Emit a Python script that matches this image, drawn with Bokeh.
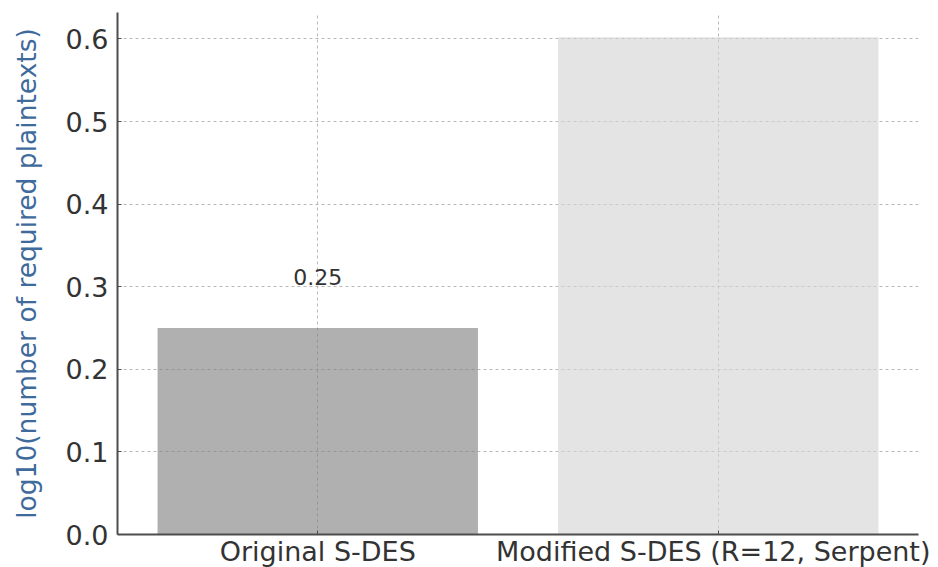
from bokeh.plotting import figure
from bokeh.models import Range1d, ColumnDataSource, CustomJSTickFormatter
from bokeh.core.properties import value
from bokeh.embed import file_html
from bokeh.resources import INLINE

categories = ["Original S-DES", "Modified S-DES (R=12, Serpent)"]
values = [0.25, 0.602]
bar_colors = ["#808080", "#d3d3d3"]
label_texts = ["0.25"]
y_ticks = [0.0, 0.1, 0.2, 0.3, 0.4, 0.5, 0.6]

FONT = "DejaVu Sans"
TEXT_COLOR = "#333333"

src = ColumnDataSource(data=dict(cat=categories, val=values, color=bar_colors))

p = figure(
    x_range=categories,
    y_range=Range1d(0, 0.632),
    width=930, height=569,
    output_backend="svg", toolbar_location=None,
    min_border_left=117, min_border_right=12,
    min_border_top=12, min_border_bottom=35,
)
p.outline_line_color = None
p.background_fill_color = "white"
p.border_fill_color = "white"

p.vbar(x="cat", top="val", width=0.8, source=src,
       fill_color="color", fill_alpha=0.62, line_color=None)

lbl = ColumnDataSource(data=dict(cat=categories[:1], val=values[:1], txt=label_texts))
p.text(x="cat", y="val", text="txt", source=lbl, text_align="center",
       text_baseline="alphabetic", y_offset=-51,
       text_font=value(FONT), text_font_size="22px", text_color=TEXT_COLOR)

# grids
for g in (p.xgrid, p.ygrid):
    g.grid_line_color = "#b8b8b8"
    g.grid_line_dash = "3 3"
    g.grid_line_width = 1
p.ygrid.ticker = y_ticks
p.yaxis.ticker = y_ticks

# axes
for ax in (p.xaxis, p.yaxis):
    ax.axis_line_color = "#4d4d4d"
    ax.axis_line_width = 2
    ax.major_tick_line_color = "#4d4d4d"
    ax.major_tick_in = 4
    ax.major_tick_out = 0
    ax.minor_tick_line_color = None
    ax.major_label_text_font = FONT
    ax.major_label_text_font_size = "27px"
    ax.major_label_text_color = TEXT_COLOR

p.xaxis.major_label_standoff = 1
p.yaxis.major_label_standoff = 9
p.yaxis.formatter = CustomJSTickFormatter(code="return tick.toFixed(1);")

p.yaxis.axis_label = "log10(number of required plaintexts)"
p.yaxis.axis_label_text_font = FONT
p.yaxis.axis_label_text_font_size = "26.5px"
p.yaxis.axis_label_text_font_style = "normal"
p.yaxis.axis_label_text_color = "#3f6a9c"
p.yaxis.axis_label_standoff = 21

open("out.html", "w").write(file_html(p, INLINE))
